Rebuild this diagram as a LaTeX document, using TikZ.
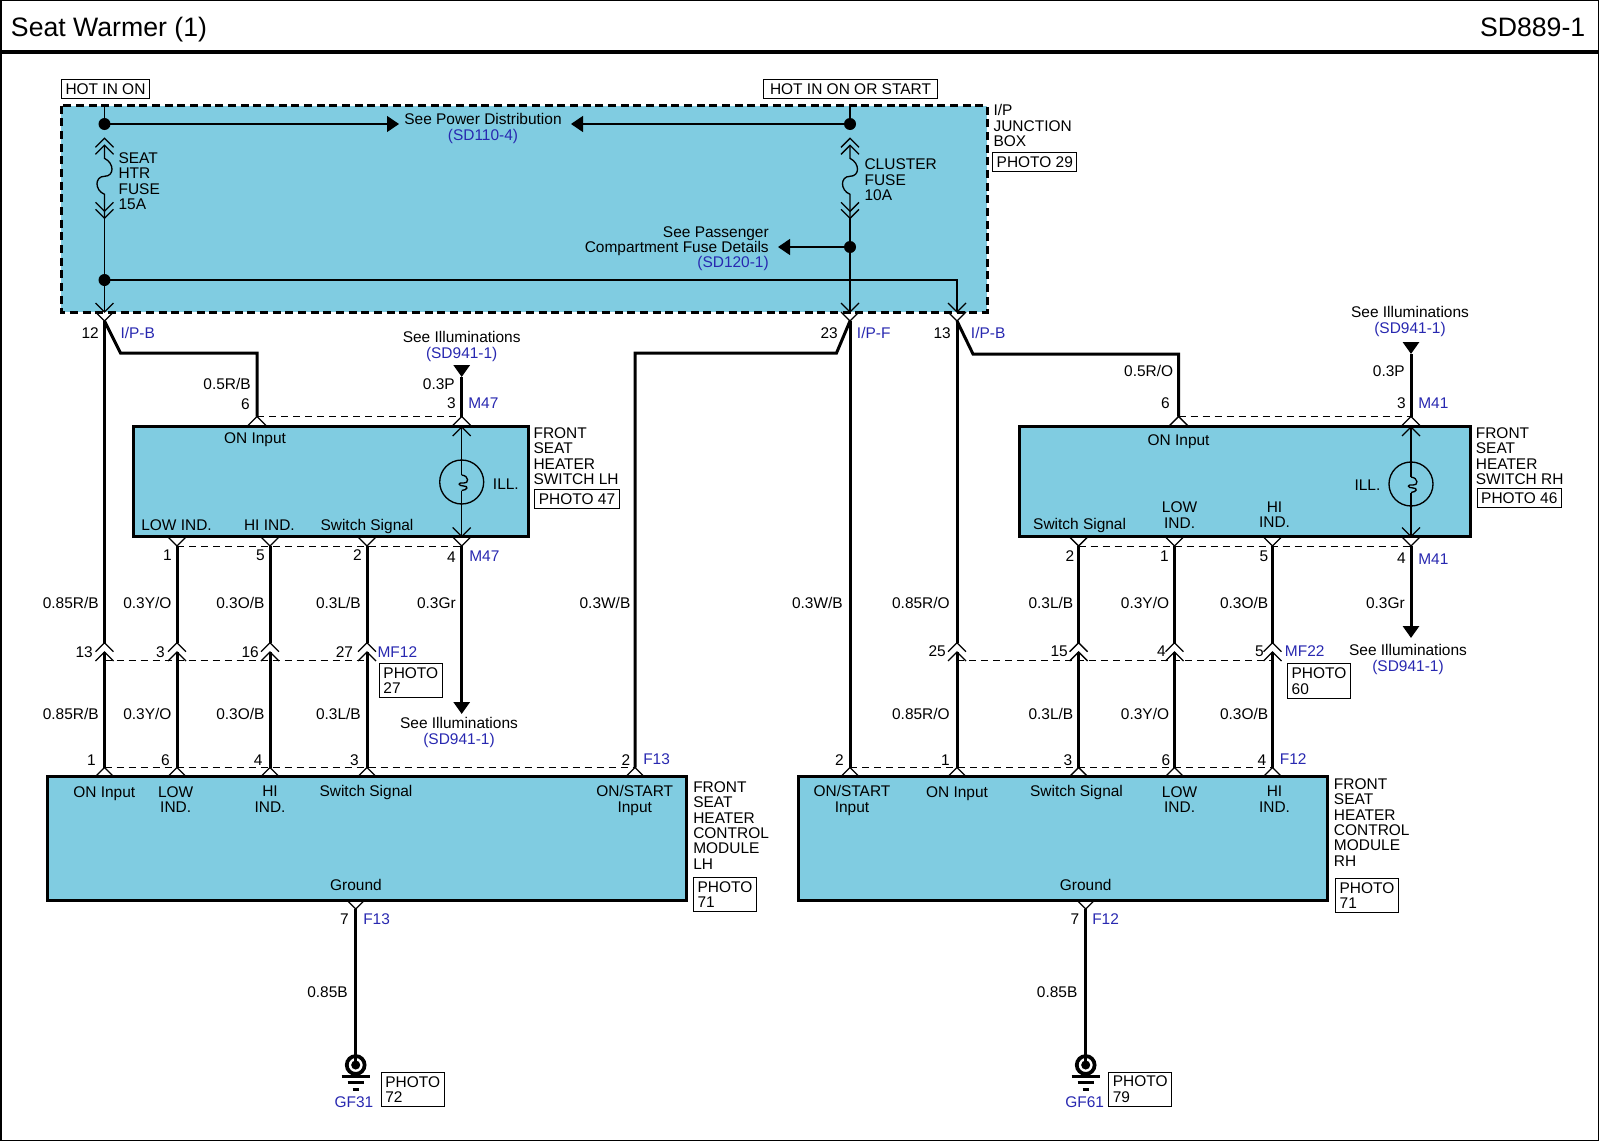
\documentclass[tikz,border=0pt]{standalone}
\usepackage{fontspec}
\setmainfont{Liberation Sans}
\usetikzlibrary{arrows.meta}

\definecolor{boxblue}{RGB}{128,204,225}
\definecolor{tagblue}{RGB}{40,40,176}
\newcommand{\lblfont}{\fontsize{11.6}{11.6}\selectfont}

\tikzset{
  wire/.style={line width=2.25pt},
  hair/.style={line width=1pt},
  pinrow/.style={line width=0.7pt, dash pattern=on 5.5pt off 3.5pt},
  tipped/.style={-{Triangle[length=9pt,width=12pt]}},
  lbl/.style={font=\lblfont, inner sep=0pt, text height=8.3pt, text depth=0pt},
  bluelbl/.style={lbl, text=tagblue},
  titlelbl/.style={font=\fontsize{20}{20}\selectfont, inner sep=0pt, text height=14.3pt, text depth=0pt},
  para/.style={font=\lblfont, inner sep=0pt, align=left, anchor=north west},
  midpara/.style={font=\lblfont, inner sep=0pt, align=center, anchor=north},
  photobox/.style={font=\lblfont, draw, line width=0.8pt, inner xsep=3pt, inner ysep=3pt, align=left},
  unitbox/.style={draw, line width=2.25pt, fill=boxblue, inner sep=0pt},
  chevup/.pic={\draw[hair] (-9,9) -- (0,0) -- (9,9);},
  chevdn/.pic={\draw[hair] (-9,-9) -- (0,0) -- (9,-9);},
  gndmark/.pic={
    \draw[line width=2.8pt] (0,0) circle (6.7pt);
    \fill (0,0) circle (3.4pt);
    \draw[wire] (-14,11) -- (14,11);
    \draw[wire] (-8,17) -- (8,17);
    \draw[wire] (-3,24) -- (3,24);
  },
  fusemark/.pic={
    \draw[hair] (-9,9) -- (0,0) -- (9,9);
    \draw[hair] (-9,16) -- (0,7) -- (9,16);
    \draw[hair] (0,7) -- (0,20) .. controls (10,25) and (10,38) .. (0,38)
      .. controls (-10,38) and (-10,52) .. (0,56) -- (0,80);
    \draw[hair] (-9,64) -- (0,73) -- (9,64);
    \draw[hair] (-9,71) -- (0,80) -- (9,71);
  },
  bulbmark/.pic={
    \draw[hair] (0,0) circle (16.5pt);
    \draw[hair] (0,-7) .. controls (8,-6) and (7,2) .. (2,1)
      .. controls (-4,0) and (-4,4) .. (2,4) .. controls (7,4) and (6,8) .. (0,8.5);
  }
}

\begin{document}
\begin{tikzpicture}[x=0.75pt,y=-0.75pt]
  \useasboundingbox (0,0) rectangle (1600,1142);

  % Page frame and title
  \draw[hair] (1,0.7) rectangle (1598.5,1140.7);
  \draw[line width=3pt] (0,51.5) -- (1597.5,51.5);
  \node[titlelbl,anchor=west] (title) at (10.7,26.5) {Seat Warmer (1)};
  \node[titlelbl,anchor=east] (sheet) at (1585.5,26.5) {SD889-1};

  % I/P junction box
  \fill[boxblue] (61,105.5) rectangle (987,312);
  \draw[line width=2.25pt, dash pattern=on 6pt off 3.5pt] (61,105.5) rectangle (987,312);
  \node[photobox] (hoton) at (105.5,89.3) {HOT IN ON};
  \node[photobox, minimum width=131pt] (hotstart) at (850.5,89.3) {HOT IN ON OR START};
  \node[para] (ipname) at (993.3,104.5) {I/P\\JUNCTION\\BOX};
  \node[photobox] (ipphoto) at (1034.8,161.7) {PHOTO 29};

  % Switch and module bodies
  \node[unitbox, minimum width=394.5*0.75pt, minimum height=110*0.75pt] (swlh) at (331,481.5) {};
  \node[unitbox, minimum width=451*0.75pt, minimum height=110*0.75pt] (swrh) at (1245,481.5) {};
  \node[unitbox, minimum width=639.7*0.75pt, minimum height=123.5*0.75pt] (modlh) at (366.85,838.25) {};
  \node[unitbox, minimum width=529.6*0.75pt, minimum height=123.5*0.75pt] (modrh) at (1062.8,838.25) {};

  % Named points
  \foreach \nm/\x in {ipa/104.5,ipb/850,ipc/957} {
    \coordinate (\nm) at (\x,312);
    \coordinate (\nm o) at (\x,321);
    \pic at (\nm) {chevdn};
    \pic at (\nm o) {chevdn};
  }
  \coordinate (hota) at (104.5,105.5);
  \coordinate (hotb) at (850,105.5);
  \coordinate (dota) at (104.5,124);
  \coordinate (dotb) at (850,124);
  \coordinate (dotc) at (850,247);
  \coordinate (dotd) at (104.5,280);
  \coordinate (fusea) at (104.5,138.3);
  \coordinate (fuseb) at (850,138.3);
  \coordinate (fuseaend) at (104.5,218.3);
  \coordinate (fusebend) at (850,218.3);
  \coordinate (powera) at (399,124);
  \coordinate (powerb) at (571,124);
  \coordinate (passtip) at (778,247);

  % Pins on the switches, outer chevrons
  \foreach \nm/\x in {sla/257,slb/461.7,sra/1178.6,srb/1411} {
    \coordinate (\nm) at (\x,416.5);
    \pic at (\nm) {chevup};
  }
  \foreach \nm/\x in {slc/177,sld/270,sle/367,slf/461.7,src/1078.6,srd/1174.5,sre/1272.5,srf/1411} {
    \coordinate (\nm) at (\x,546);
    \pic at (\nm) {chevdn};
  }
  % Lamp inside the switches
  \foreach \nm/\x/\y in {lampl/461.7/482,lampr/1411/484} {
    \coordinate (\nm) at (\x,\y);
    \coordinate (\nm t) at (\x,427);
    \coordinate (\nm b) at (\x,536.5);
    \coordinate (\nm u) at (\x,\y-7);
    \coordinate (\nm d) at (\x,\y+8.5);
    \pic at (\nm) {bulbmark};
    \pic at (\nm t) {chevup};
    \pic at (\nm b) {chevdn};
    \draw[hair] (\nm t) -- (\nm u);
    \draw[hair] (\nm d) -- (\nm b);
  }

  % Inline connectors
  \foreach \nm/\x in {mfa/104.5,mfb/177,mfc/270,mfd/367,mfe/957,mff/1078.6,mfg/1174.5,mfh/1272.5} {
    \coordinate (\nm u) at (\x,642.7);
    \coordinate (\nm l) at (\x,652);
    \coordinate (\nm d) at (\x,660.7);
    \pic at (\nm u) {chevup};
    \pic at (\nm l) {chevup};
  }

  % Pins on the modules
  \foreach \nm/\x in {mla/104.5,mlb/177,mlc/270,mld/367,mle/635,mra/850,mrb/957,mrc/1078.6,mrd/1174.5,mre/1272.5} {
    \coordinate (\nm) at (\x,767.5);
    \pic at (\nm) {chevup};
  }
  \foreach \nm/\x in {gla/355.7,gra/1085.7} {
    \coordinate (\nm) at (\x,909);
    \coordinate (\nm e) at (\x,1065);
    \pic at (\nm) {chevdn};
    \pic at (\nm e) {gndmark};
    \draw[wire] (\nm) -- (\nm e);
  }

  % Pin rows, dashed
  \draw[pinrow] (sla) -- (slb);
  \draw[pinrow] (slc) -- (slf);
  \draw[pinrow] (mfad) -- (mfdd);
  \draw[pinrow] (mla) -- (mle);
  \draw[pinrow] (sra) -- (srb);
  \draw[pinrow] (src) -- (srf);
  \draw[pinrow] (mfed) -- (mfhd);
  \draw[pinrow] (mra) -- (mre);

  % Thin wires in the junction box
  \draw[hair] (hota) -- (dota);
  \draw[hair] (hotb) -- (dotb);
  \pic at (fusea) {fusemark};
  \pic at (fuseb) {fusemark};
  \draw[hair] (fuseaend) -- (ipa);
  \draw[hair] (fusebend) -- (ipb);
  \draw[hair] (dotd) -| (ipc);
  \draw[hair,tipped] (dota) -- (powera);
  \draw[hair,tipped] (dotb) -- (powerb);
  \draw[hair,tipped] (dotc) -- (passtip);
  \foreach \nm in {dota,dotb,dotc,dotd} {
    \fill (\nm) circle (4.5pt);
  }

  % Heavy wires, left side
  \draw[wire] (ipao) -- (mfau);
  \draw[wire] (mfal) -- (mla);
  \draw[wire] (ipao) -- (120.5,353) -| (sla);
  \draw[wire] (slc) -- (mfbu);
  \draw[wire] (mfbl) -- (mlb);
  \draw[wire] (sld) -- (mfcu);
  \draw[wire] (mfcl) -- (mlc);
  \draw[wire] (sle) -- (mfdu);
  \draw[wire] (mfdl) -- (mld);
  \draw[wire] (ipbo) -- (836.5,353) -| (mle);
  \coordinate (illla) at (461.7,366);
  \coordinate (illlb) at (461.7,377);
  \coordinate (illlc) at (461.7,714);
  \draw[wire,tipped] (illla) -- (illlb);
  \draw[wire] (illlb) -- (slb);
  \draw[wire,tipped] (slf) -- (illlc);

  % Heavy wires, right side
  \draw[wire] (ipbo) -- (mra);
  \draw[wire] (ipco) -- (mfeu);
  \draw[wire] (mfel) -- (mrb);
  \draw[wire] (ipco) -- (973,354) -| (sra);
  \draw[wire] (src) -- (mffu);
  \draw[wire] (mffl) -- (mrc);
  \draw[wire] (srd) -- (mfgu);
  \draw[wire] (mfgl) -- (mrd);
  \draw[wire] (sre) -- (mfhu);
  \draw[wire] (mfhl) -- (mre);
  \coordinate (illra) at (1411,342);
  \coordinate (illrb) at (1411,354);
  \coordinate (illrc) at (1411,638);
  \draw[wire,tipped] (illra) -- (illrb);
  \draw[wire] (illrb) -- (srb);
  \draw[wire,tipped] (srf) -- (illrc);

  % Wire sizes and pin numbers, right aligned
  \foreach \nm/\x/\y/\txt in {
    na/99/332.7/12, nb/838/332.7/23, nc/951/332.7/13,
    sa/251/384/{0.5R/B}, sb/455/384/0.3P, sc/1173.5/371.4/{0.5R/O}, sd/1405/371.4/0.3P,
    pa/250/404/6, pb/456/403/3, pc/1170/403/6, pd/1406/403/3,
    pe/172/555/1, pf/265/555/5, pg/362/555/2, ph/456/557/4,
    pi/1074.5/556/2, pj/1169/556/1, pk/1268.4/556/5, pl/1406/558/4,
    ua/99/603/{0.85R/B}, ub/171.7/603/{0.3Y/O}, uc/264.7/603/{0.3O/B}, ud/361/603/{0.3L/B},
    ue/456/603/0.3Gr, uf/630.6/603/{0.3W/B}, ug/843/603/{0.3W/B}, uh/950/603/{0.85R/O},
    ui/1073.5/603/{0.3L/B}, uj/1169.4/603/{0.3Y/O}, uk/1268.4/603/{0.3O/B}, ul/1405/603/0.3Gr,
    ma/93/651.7/13, mb/165/651.7/3, mc/259/651.7/16, md/353.3/651.7/27,
    me/946/651/25, mf/1068/651/15, mg/1166/651/4, mh/1264/651/5,
    la/99/714.3/{0.85R/B}, lb/171.7/714.3/{0.3Y/O}, lc/264.7/714.3/{0.3O/B}, ld/361/714.3/{0.3L/B},
    le/950/714.3/{0.85R/O}, lf/1073.5/714.3/{0.3L/B}, lg/1169.4/714.3/{0.3Y/O}, lh/1268.4/714.3/{0.3O/B},
    ra/96/760/1, rb/170/760/6, rc/262.7/760/4, rd/359/760/3, re/630.6/760/2,
    rf/844/760/2, rg/950/760/1, rh/1072.5/760/3, ri/1170.5/760/6, rj/1266.4/760/4,
    ga/349/919.4/7, gb/1079.6/919.4/7, gc/348/992/0.85B, gd/1077.6/992/0.85B
  } {
    \node[lbl,anchor=east] (\nm) at (\x,\y) {\txt};
  }

  % Connector names, left aligned
  \foreach \nm/\x/\y/\txt in {
    ca/120.3/332.7/{I/P-B}, cb/856.7/332.7/{I/P-F}, cc/970.7/332.7/{I/P-B},
    cd/468/403/M47, ce/469/556/M47, cf/1418/403/M41, cg/1418/559/M41,
    ch/377.3/651.7/MF12, ci/1284.7/651/MF22, cj/643/759/F13, ck/1279.6/759/F12,
    cl/363/919.4/F13, cm/1092/919.4/F12
  } {
    \node[bluelbl,anchor=west] (\nm) at (\x,\y) {\txt};
  }

  % Cross references
  \foreach \nm/\x/\y/\txt/\ref in {
    xa/483/118.5/See Power Distribution/(SD110-4),
    xb/461.7/337/See Illuminations/(SD941-1),
    xc/1410/312/See Illuminations/(SD941-1),
    xd/459/722.5/See Illuminations/(SD941-1),
    xe/1408/650/See Illuminations/(SD941-1)
  } {
    \node[lbl] (\nm) at (\x,\y) {\txt};
    \node[bluelbl] (\nm r) at (\x,\y+16) {\ref};
  }
  \node[lbl,anchor=east] (xfa) at (769,232) {See Passenger};
  \node[lbl,anchor=east] (xfb) at (769,247) {Compartment Fuse Details};
  \node[bluelbl,anchor=east] (xfc) at (769,262) {(SD120-1)};
  \node[bluelbl] (gfa) at (354,1102) {GF31};
  \node[bluelbl] (gfb) at (1084.7,1102) {GF61};

  % Fuse and lamp names
  \node[para] (fuselbla) at (118.3,152) {SEAT\\HTR\\FUSE\\15A};
  \node[para] (fuselblb) at (864.3,158.5) {CLUSTER\\FUSE\\10A};
  \node[lbl,anchor=west] (illl) at (492.7,484) {ILL.};
  \node[lbl,anchor=east] (illr) at (1380.6,484.7) {ILL.};

  % Names inside the bodies
  \foreach \nm/\x/\y/\txt in {
    ia/255/437.7/ON Input, ib/176.5/524.5/LOW IND., ic/269.4/524.5/HI IND., id/367/524.5/Switch Signal,
    ie/1178.6/439.8/ON Input, if/1079.6/523.5/Switch Signal,
    ig/104.3/791.7/ON Input, ih/366/790.7/Switch Signal, ii/356/884.7/Ground,
    ij/957/791.7/ON Input, ik/1076.5/790.8/Switch Signal, il/1085.7/884.7/Ground
  } {
    \node[lbl] (\nm) at (\x,\y) {\txt};
  }
  \foreach \nm/\x/\y/\txt in {
    ba/1179.6/501.5/LOW\\IND., bb/1274.5/501.5/HI\\IND.,
    bc/175.7/786/LOW\\IND., bd/270/786/HI\\IND.,
    bg/1179.6/786/LOW\\IND., bh/1274.5/786/HI\\IND.
  } {
    \node[midpara] (\nm) at (\x,\y) {\txt};
  }
  \node[midpara] (be) at (634.7,785.5) {ON/START\\Input};
  \node[midpara] (bf) at (852,785.5) {ON/START\\Input};

  % Names beside the bodies
  \node[para] (swlhname) at (533.3,427) {FRONT\\SEAT\\HEATER\\SWITCH LH};
  \node[para] (swrhname) at (1475.6,427) {FRONT\\SEAT\\HEATER\\SWITCH RH};
  \node[para] (modlhname) at (693,781) {FRONT\\SEAT\\HEATER\\CONTROL\\MODULE\\LH};
  \node[para] (modrhname) at (1333.7,778) {FRONT\\SEAT\\HEATER\\CONTROL\\MODULE\\RH};

  % Photo references
  \node[photobox] (photoa) at (577,499.3) {PHOTO 47};
  \node[photobox] (photob) at (1519.3,498) {PHOTO 46};
  \node[photobox] (photoc) at (410.8,680.8) {PHOTO\\27};
  \node[photobox] (photod) at (1319,681) {PHOTO\\60};
  \node[photobox] (photoe) at (725,894.4) {PHOTO\\71};
  \node[photobox] (photof) at (1367,895.4) {PHOTO\\71};
  \node[photobox] (photog) at (412.7,1089.5) {PHOTO\\72};
  \node[photobox] (photoh) at (1140.2,1089.3) {PHOTO\\79};
\end{tikzpicture}
\end{document}
